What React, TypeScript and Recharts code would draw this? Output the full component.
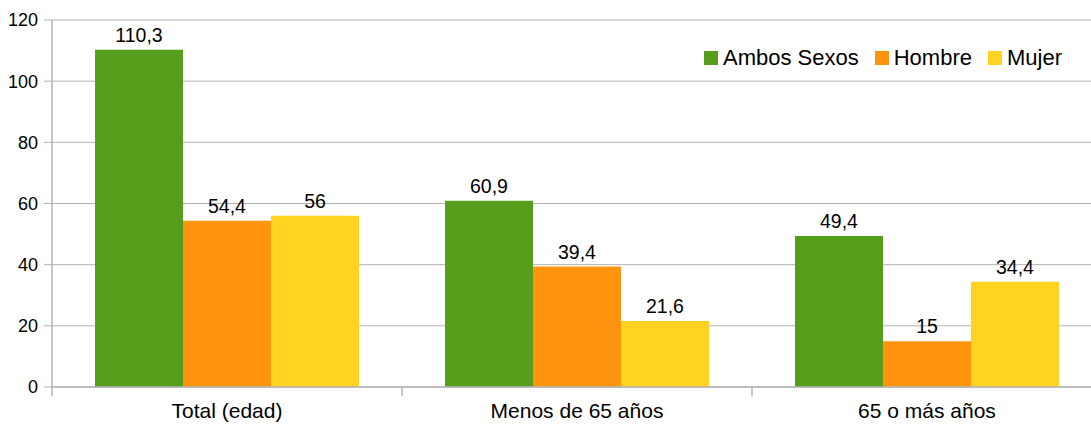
import React from "react";
import {
  BarChart,
  Bar,
  XAxis,
  YAxis,
  CartesianGrid,
  LabelList,
} from "recharts";

const categories = ["Total (edad)", "Menos de 65 años", "65 o más años"];
const ambosSexos = [110.3, 60.9, 49.4];
const hombre = [54.4, 39.4, 15];
const mujer = [56, 21.6, 34.4];
const yTicks = [0, 20, 40, 60, 80, 100, 120];

const series = [
  { key: "ambos", name: "Ambos Sexos", color: "#579d1c" },
  { key: "hombre", name: "Hombre", color: "#ff950e" },
  { key: "mujer", name: "Mujer", color: "#ffd320" },
];

const data = categories.map((c, i) => ({
  name: c,
  ambos: ambosSexos[i],
  hombre: hombre[i],
  mujer: mujer[i],
}));

const FONT = '"Liberation Sans", Arial, sans-serif';
const GRID = "#b3b3b3";
const TICK_MARGIN = 16;

const fmt = (v: unknown) => String(v).replace(".", ",");

// category label plus a small tick at the left edge of its band
function CategoryTick(props: any) {
  const { x, y, payload } = props;
  const left = payload.coordinate - (payload.offset || 0);
  const axisY = y - TICK_MARGIN;
  return (
    <g>
      <line x1={left} x2={left} y1={axisY} y2={axisY + 9} stroke={GRID} strokeWidth={1.5} />
      <text x={x} y={y} dy="0.71em" textAnchor="middle" fill="#000" fontSize={21}>
        {payload.value}
      </text>
    </g>
  );
}

// legend sits inside the plot, top right
function LegendBox() {
  return (
    <div
      style={{
        position: "absolute",
        top: 47,
        left: 704,
        display: "flex",
        alignItems: "center",
        fontFamily: FONT,
        fontSize: 22,
        lineHeight: 1,
        color: "#000",
      }}
    >
      {series.map((s, i) => (
        <div key={s.key} style={{ display: "flex", alignItems: "center", marginLeft: i ? 16 : 0 }}>
          <span style={{ width: 14, height: 14, background: s.color, marginRight: 5, display: "inline-block" }} />
          <span>{s.name}</span>
        </div>
      ))}
    </div>
  );
}

export default function App() {
  return (
    <div style={{ position: "fixed", left: 0, top: 0, width: 1091, height: 425, overflow: "hidden", background: "#fff" }}>
      <BarChart
        width={1110}
        height={425}
        data={data}
        margin={{ top: 20, right: 8, left: 0, bottom: 8 }}
        barCategoryGap={43}
        barGap={0}
        style={{ fontFamily: FONT }}
      >
        <CartesianGrid vertical={false} stroke={GRID} />
        <XAxis
          dataKey="name"
          height={30}
          axisLine={{ stroke: GRID, strokeWidth: 1.5 }}
          tickLine={false}
          tickSize={0}
          tickMargin={TICK_MARGIN}
          tick={<CategoryTick />}
          interval={0}
        />
        <YAxis
          width={52}
          domain={[0, 120]}
          ticks={yTicks}
          axisLine={{ stroke: GRID, strokeWidth: 1.5 }}
          tickLine={{ stroke: GRID }}
          tickSize={8}
          tickMargin={6}
          tick={{ fill: "#000", fontSize: 18 }}
        />
        {series.map((s) => (
          <Bar key={s.key} dataKey={s.key} name={s.name} fill={s.color} isAnimationActive={false}>
            <LabelList dataKey={s.key} position="top" offset={8} formatter={fmt} fill="#000" fontSize={19.5} />
          </Bar>
        ))}
      </BarChart>
      <LegendBox />
    </div>
  );
}
